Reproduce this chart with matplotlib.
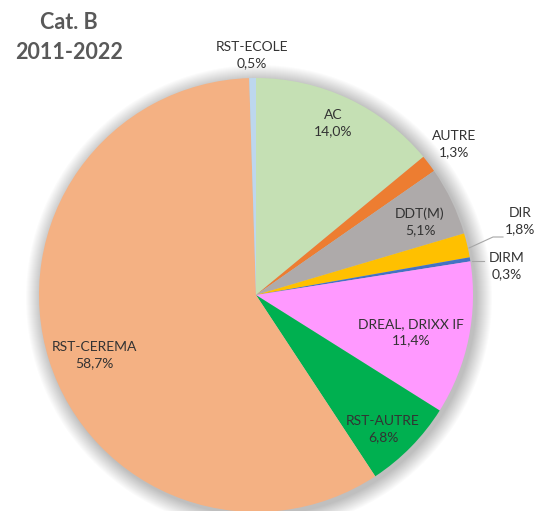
import matplotlib
matplotlib.use("Agg")
import matplotlib.pyplot as plt
from matplotlib.patches import Circle

categories = ["AC", "AUTRE", "DDT(M)", "DIR", "DIRM", "DREAL, DRIXX IF",
              "RST-AUTRE", "RST-CEREMA", "RST-ECOLE"]
values = [14.0, 1.3, 5.1, 1.8, 0.3, 11.4, 6.8, 58.7, 0.5]
colors = ["#c5e0b4", "#ed7d31", "#aeaaaa", "#ffc000", "#4472c4", "#ff99ff",
          "#00b050", "#f4b183", "#bdd7ee"]
title_lines = ["Cat. B", "2011-2022"]

W, H = 549, 511
fig = plt.figure(figsize=(W / 100, H / 100), dpi=100)
ax = fig.add_axes([0, 0, 1, 1])
ax.set_xlim(0, W)
ax.set_ylim(0, H)
ax.set_aspect("equal")
ax.axis("off")

cx, cy, R = 256, H - 295, 217

# soft shadow
for i in range(16):
    ax.add_patch(Circle((cx + 3, cy - 3), R + 16 - i, color="#000000",
                        alpha=0.014, lw=0, zorder=0))

ax.pie(values, colors=colors, startangle=90, counterclock=False,
       center=(cx, cy), radius=R, frame=True,
       wedgeprops=dict(linewidth=0))
ax.set_xlim(0, W)
ax.set_ylim(0, H)
ax.axis("off")

font = "Lato"
tc = "#333333"
label_pos = {
    "AC": (333, 123),
    "AUTRE": (454, 144),
    "DDT(M)": (420, 222),
    "DIR": (520, 221),
    "DIRM": (507, 266),
    "DREAL, DRIXX IF": (411, 332),
    "RST-AUTRE": (383, 429),
    "RST-CEREMA": (94, 355),
    "RST-ECOLE": (252, 55),
}
for cat, v in zip(categories, values):
    x, y = label_pos[cat]
    txt = f"{cat}\n{v:.1f}%".replace(".", ",")
    ax.text(x, H - y, txt, ha="center", va="center", fontsize=10,
            family=font, color=tc, linespacing=1.4, zorder=5)

# leader lines
ax.plot([469, 493, 503], [H - 248, H - 237, H - 237], color="#a6a6a6", lw=0.8, zorder=4)
ax.plot([472, 484], [H - 261, H - 261], color="#a6a6a6", lw=0.8, zorder=4)

ax.text(69, H - 22, title_lines[0], ha="center", va="center", fontsize=15.5,
        fontweight="bold", family=font, color="#595959")
ax.text(69, H - 52, title_lines[1], ha="center", va="center", fontsize=15.5,
        fontweight="bold", family=font, color="#595959")

fig.savefig("out.png", dpi=100)
